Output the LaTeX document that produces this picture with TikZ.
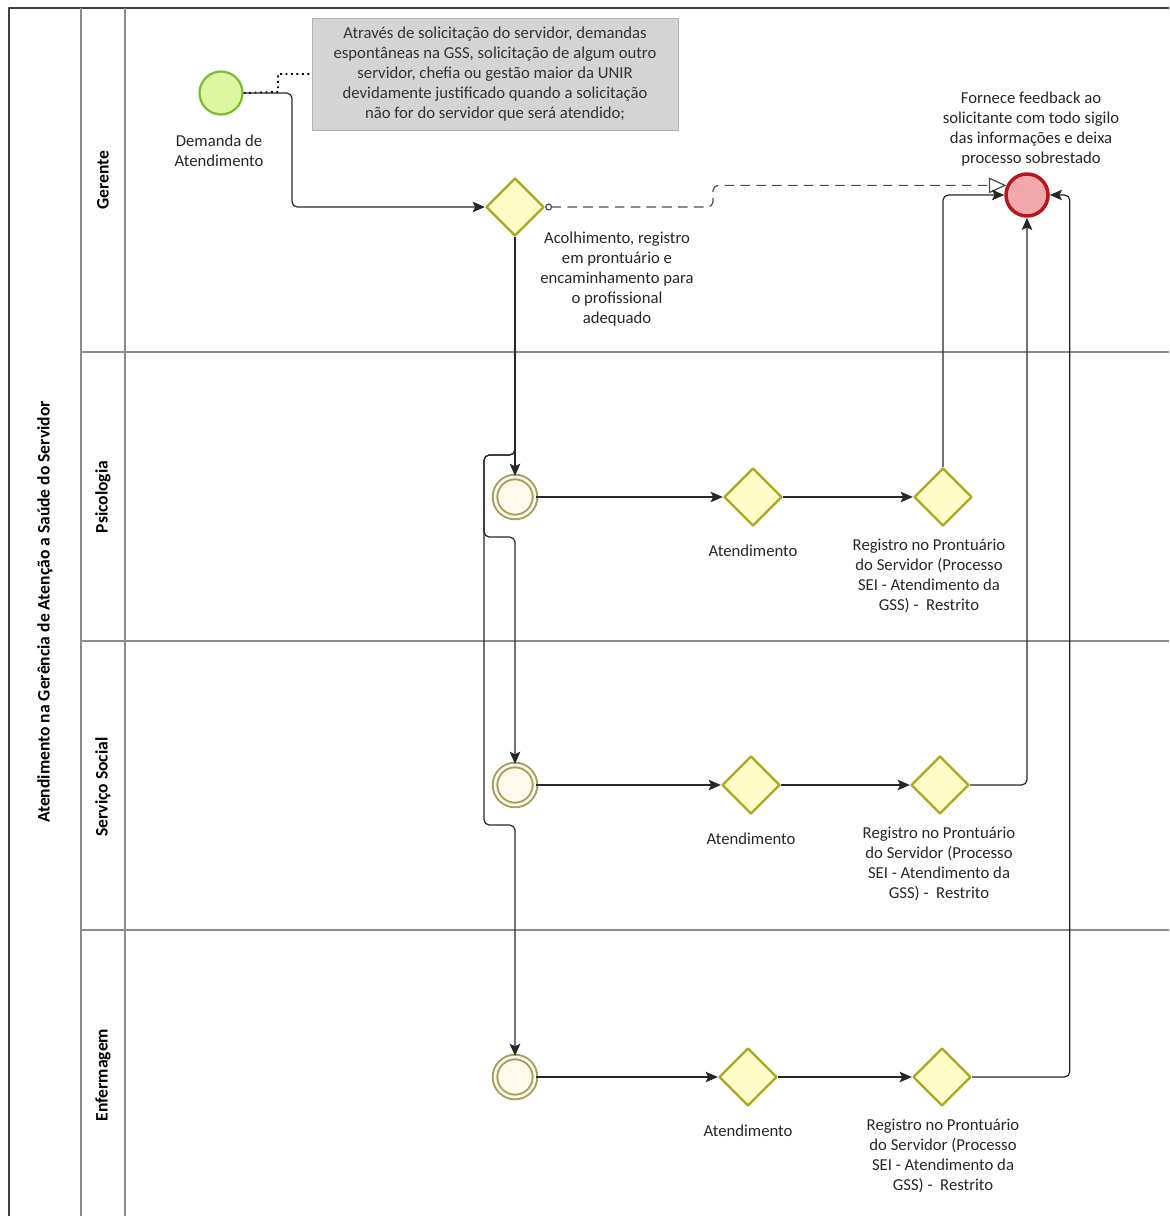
\documentclass[tikz,border=0pt]{standalone}
\usepackage{fontspec}
\setmainfont{Carlito}
\usetikzlibrary{shapes.geometric,arrows.meta,positioning}
\definecolor{startfill}{HTML}{DDF7A0}
\definecolor{startdraw}{HTML}{7DBE30}
\definecolor{gwfill}{HTML}{FFFCC8}
\definecolor{gwdraw}{HTML}{A9A81E}
\definecolor{midfill}{HTML}{FDF9EC}
\definecolor{middraw}{HTML}{A39F5A}
\definecolor{endfill}{HTML}{F0A8AA}
\definecolor{enddraw}{HTML}{B2191E}
\definecolor{notefill}{HTML}{D4D4D4}
\definecolor{lanegray}{HTML}{8C8C8C}
\begin{document}
\begin{tikzpicture}[x=0.02cm, y=-0.02cm, line join=round, >={Stealth[length=7pt,width=6pt,inset=1.5pt]}, font=\fontsize{9.5}{11.3}\selectfont]
\tikzset{startev/.style={circle, draw=startdraw, fill=startfill, line width=1.3pt, minimum size=0.86cm, inner sep=0pt},
  midev/.style={circle, draw=middraw, fill=midfill, line width=1.1pt, double=midfill, double distance=1.5pt, minimum size=0.8cm, inner sep=0pt},
  gw/.style={diamond, aspect=1, draw=gwdraw, fill=gwfill, line width=1.3pt, minimum size=1.16cm, inner sep=0pt},
  endev/.style={circle, draw=enddraw, fill=endfill, line width=2pt, minimum size=0.84cm, inner sep=0pt},
  note/.style={draw=black!30, fill=notefill, minimum width=7.32cm, minimum height=2.24cm, align=center, text=black!80},
  lbl/.style={align=center, text=black!85, inner sep=1pt},
  lanelbl/.style={rotate=90, font=\fontsize{10}{12}\bfseries\selectfont},
  flow/.style={->, black!85, line width=0.7pt, rounded corners=3pt}}
\def\xmax{1169}\def\ymax{1216}
\useasboundingbox (0,0) rectangle (\xmax,\ymax);
\draw[black!75, line width=0.9pt] (9,\ymax) -- (9,8) -- (\xmax,8);
\draw[lanegray, line width=0.8pt] (81,8) -- (81,\ymax) (125,8) -- (125,\ymax);
\foreach \y in {352,641,930}\draw[lanegray, line width=0.8pt] (81,\y) -- (\xmax,\y);
\node[lanelbl, font=\fontsize{10}{12}\bfseries\selectfont] (pool) at (45,612) {Atendimento na Gerência de Atenção a Saúde do Servidor};
\foreach \n/\y/\t in {gerente/180/Gerente, psicologia/497/Psicologia, social/787/Serviço Social, enfermagem/1075/Enfermagem}
  \node[lanelbl] (\n) at (103,\y) {\t};

\node[startev] (demanda) at (221,93) {};
\node[lbl] (demandalbl) at (219,151) {Demanda de\\Atendimento};
\node[note] (nota) at (495,74) {Através de solicitação do servidor, demandas\\espontâneas na GSS, solicitação de algum outro\\servidor, chefia ou gestão maior da UNIR\\devidamente justificado quando a solicitação\\não for do servidor que será atendido;};
\draw[dotted, line width=1.1pt] (demanda.east) -- (278,92) -- (278,74) -- (nota.west);
\node[gw] (acolhe) at (515,207) {};
\node[lbl, anchor=north] (acolhelbl) at (617,230) {Acolhimento, registro\\em prontuário e\\encaminhamento para\\o profissional\\adequado};
\node[endev] (fim) at (1027,195) {};
\node[lbl, anchor=south] (fimlbl) at (1031,168) {Fornece feedback ao\\solicitante com todo sigilo\\das informações e deixa\\processo sobrestado};
\draw[flow] (demanda.east) -- (292,93) |- (acolhe.west);
\draw[black!70, line width=0.7pt, dash pattern=on 5.5pt off 3.5pt, rounded corners=3pt, {Circle[open,length=4pt]}-{Triangle[open,length=10pt,width=9pt]}] (acolhe.east) -- (713,207) |- (fim.155);

\foreach \n/\y/\xa/\xb/\xl in {psi/497/753/943/929, ss/785/751/940/939, enf/1077/748/942/943}{
  \node[midev] (\n-ini) at (515,\y) {};
  \node[gw] (\n-atend) at (\xa,\y) {};
  \node[gw] (\n-reg) at (\xb,\y) {};
  \node[lbl] (\n-atendlbl) at (\xa,\y+54) {Atendimento};
  \node[lbl, anchor=north] (\n-reglbl) at (\xl,\y+40) {Registro no Prontuário\\do Servidor (Processo\\SEI - Atendimento da\\GSS) -\ \ Restrito};
  \draw[flow] (\n-ini) -- (\n-atend);
  \draw[flow] (\n-atend) -- (\n-reg);
}
\draw[flow] (acolhe.south) -- (psi-ini.north);
\draw[flow] (acolhe.south) |- (484,455) |- (515,537) -- (ss-ini.north);
\draw[flow] (acolhe.south) |- (484,455) |- (515,825) -- (enf-ini.north);
\draw[flow] (psi-reg.north) |- (fim.west);
\draw[flow] (ss-reg.east) -| (fim.south);
\draw[flow] (enf-reg.east) -| ([xshift=0.4cm]fim.east) -- (fim.east);
\end{tikzpicture}
\end{document}
